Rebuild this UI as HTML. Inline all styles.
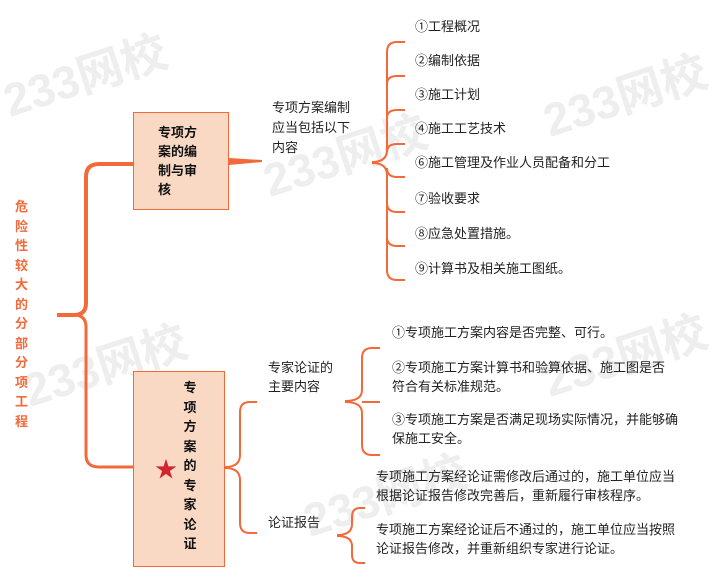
<!DOCTYPE html>
<html><head><meta charset="utf-8"><style>
body{margin:0;width:718px;height:581px;background:#fff;overflow:hidden;position:relative;font-family:"Liberation Sans","Noto Sans CJK SC",sans-serif;}
.t{position:absolute;font-size:13px;color:#222;white-space:nowrap;line-height:19px;}
.wm{position:absolute;color:#eeeeee;font-size:46px;font-weight:bold;transform:rotate(-18deg);white-space:nowrap;}
</style></head><body>
<div class="wm" style="left:0px;top:40px;">233网校</div>
<div class="wm" style="left:260px;top:120px;">233网校</div>
<div class="wm" style="left:540px;top:60px;">233网校</div>
<div class="wm" style="left:20px;top:330px;">233网校</div>
<div class="wm" style="left:540px;top:320px;">233网校</div>
<div class="wm" style="left:300px;top:460px;">233网校</div>
<svg width="718" height="581" style="position:absolute;left:0;top:0" fill="none" stroke="#f26a3a">
<path d="M57 315 H74 Q86 315 86 303 V177 Q86 164 99 164 H133" stroke-width="4"/>
<path d="M74 315 Q86 315 86 327 V455 Q86 467 99 467 H133" stroke-width="3"/>
<path d="M229 158 L262 160 L262 162 L229 165 Z" fill="#f26a3a" stroke="none"/>
<path d="M372 162 Q387 162 387 150 V52 Q387 42 397 42 H405" stroke-width="2"/>
<path d="M372 163 Q387 163 387 175 V270 Q387 280 397 280 H405" stroke-width="2"/>
<path d="M387 84 Q387 76 397 76 H405 M387 118 Q387 110 397 110 H405 M387 152 Q387 144 397 144 H405 M387 168 Q387 177 397 177 H405 M387 203 Q387 212 397 212 H405 M387 237 Q387 246 397 246 H405" stroke-width="2"/>
<path d="M225 467 Q240 467 240 455 V412 Q240 402 250 402 H257" stroke-width="2"/>
<path d="M225 468 Q240 468 240 480 V523 Q240 533 250 533 H257" stroke-width="2"/>
<path d="M345 401 Q362 401 362 390 V358 Q362 348 372 348 H380" stroke-width="2"/>
<path d="M345 402 Q362 402 362 413 V445 Q362 455 372 455 H380" stroke-width="2"/>
<path d="M362 402 H380" stroke-width="2"/>
<path d="M337 535 Q352 535 352 524 V517 Q352 508 360 508 H365" stroke-width="2"/>
<path d="M337 536 Q352 536 352 546 V555 Q352 563 360 563 H365" stroke-width="2"/>
</svg>
<div style="position:absolute;left:133px;top:112px;width:94px;height:96px;background:#f9d9c4;border:1.5px solid #f26a3a;"></div>
<div class="t" style="left:158px;top:123px;font-weight:bold;color:#111;">专项方<br>案的编<br>制与审<br>核</div>
<div style="position:absolute;left:133px;top:371px;width:90px;height:194px;background:#f9d9c4;border:1.5px solid #f26a3a;"></div>
<div class="t" style="left:182px;top:378px;font-weight:bold;color:#111;line-height:19.5px;text-align:center;width:16px;white-space:normal;">专项方案的专家论证</div>
<div style="position:absolute;left:155px;top:458px;color:#d0262e;font-size:22px;line-height:24px;">★</div>
<div class="t" style="left:15px;top:197px;width:16px;white-space:normal;font-weight:bold;color:#f26a3a;line-height:19.5px;">危险性较大的分部分项工程</div>
<div class="t" style="left:272px;top:98px;line-height:20px;">专项方案编制<br>应当包括以下<br>内容</div>
<div class="t" style="left:415px;top:17px;">①工程概况</div>
<div class="t" style="left:415px;top:51px;">②编制依据</div>
<div class="t" style="left:415px;top:85px;">③施工计划</div>
<div class="t" style="left:415px;top:119px;">④施工工艺技术</div>
<div class="t" style="left:415px;top:153px;">⑥施工管理及作业人员配备和分工</div>
<div class="t" style="left:415px;top:189px;">⑦验收要求</div>
<div class="t" style="left:415px;top:224px;">⑧应急处置措施。</div>
<div class="t" style="left:415px;top:259px;">⑨计算书及相关施工图纸。</div>
<div class="t" style="left:268px;top:358px;">专家论证的<br>主要内容</div>
<div class="t" style="left:392px;top:323px;">①专项施工方案内容是否完整、可行。</div>
<div class="t" style="left:392px;top:358px;">②专项施工方案计算书和验算依据、施工图是否<br>符合有关标准规范。</div>
<div class="t" style="left:392px;top:410px;">③专项施工方案是否满足现场实际情况，并能够确<br>保施工安全。</div>
<div class="t" style="left:268px;top:513px;">论证报告</div>
<div class="t" style="left:376px;top:467px;">专项施工方案经论证需修改后通过的，施工单位应当<br>根据论证报告修改完善后，重新履行审核程序。</div>
<div class="t" style="left:376px;top:520px;">专项施工方案经论证后不通过的，施工单位应当按照<br>论证报告修改，并重新组织专家进行论证。</div>
</body></html>
